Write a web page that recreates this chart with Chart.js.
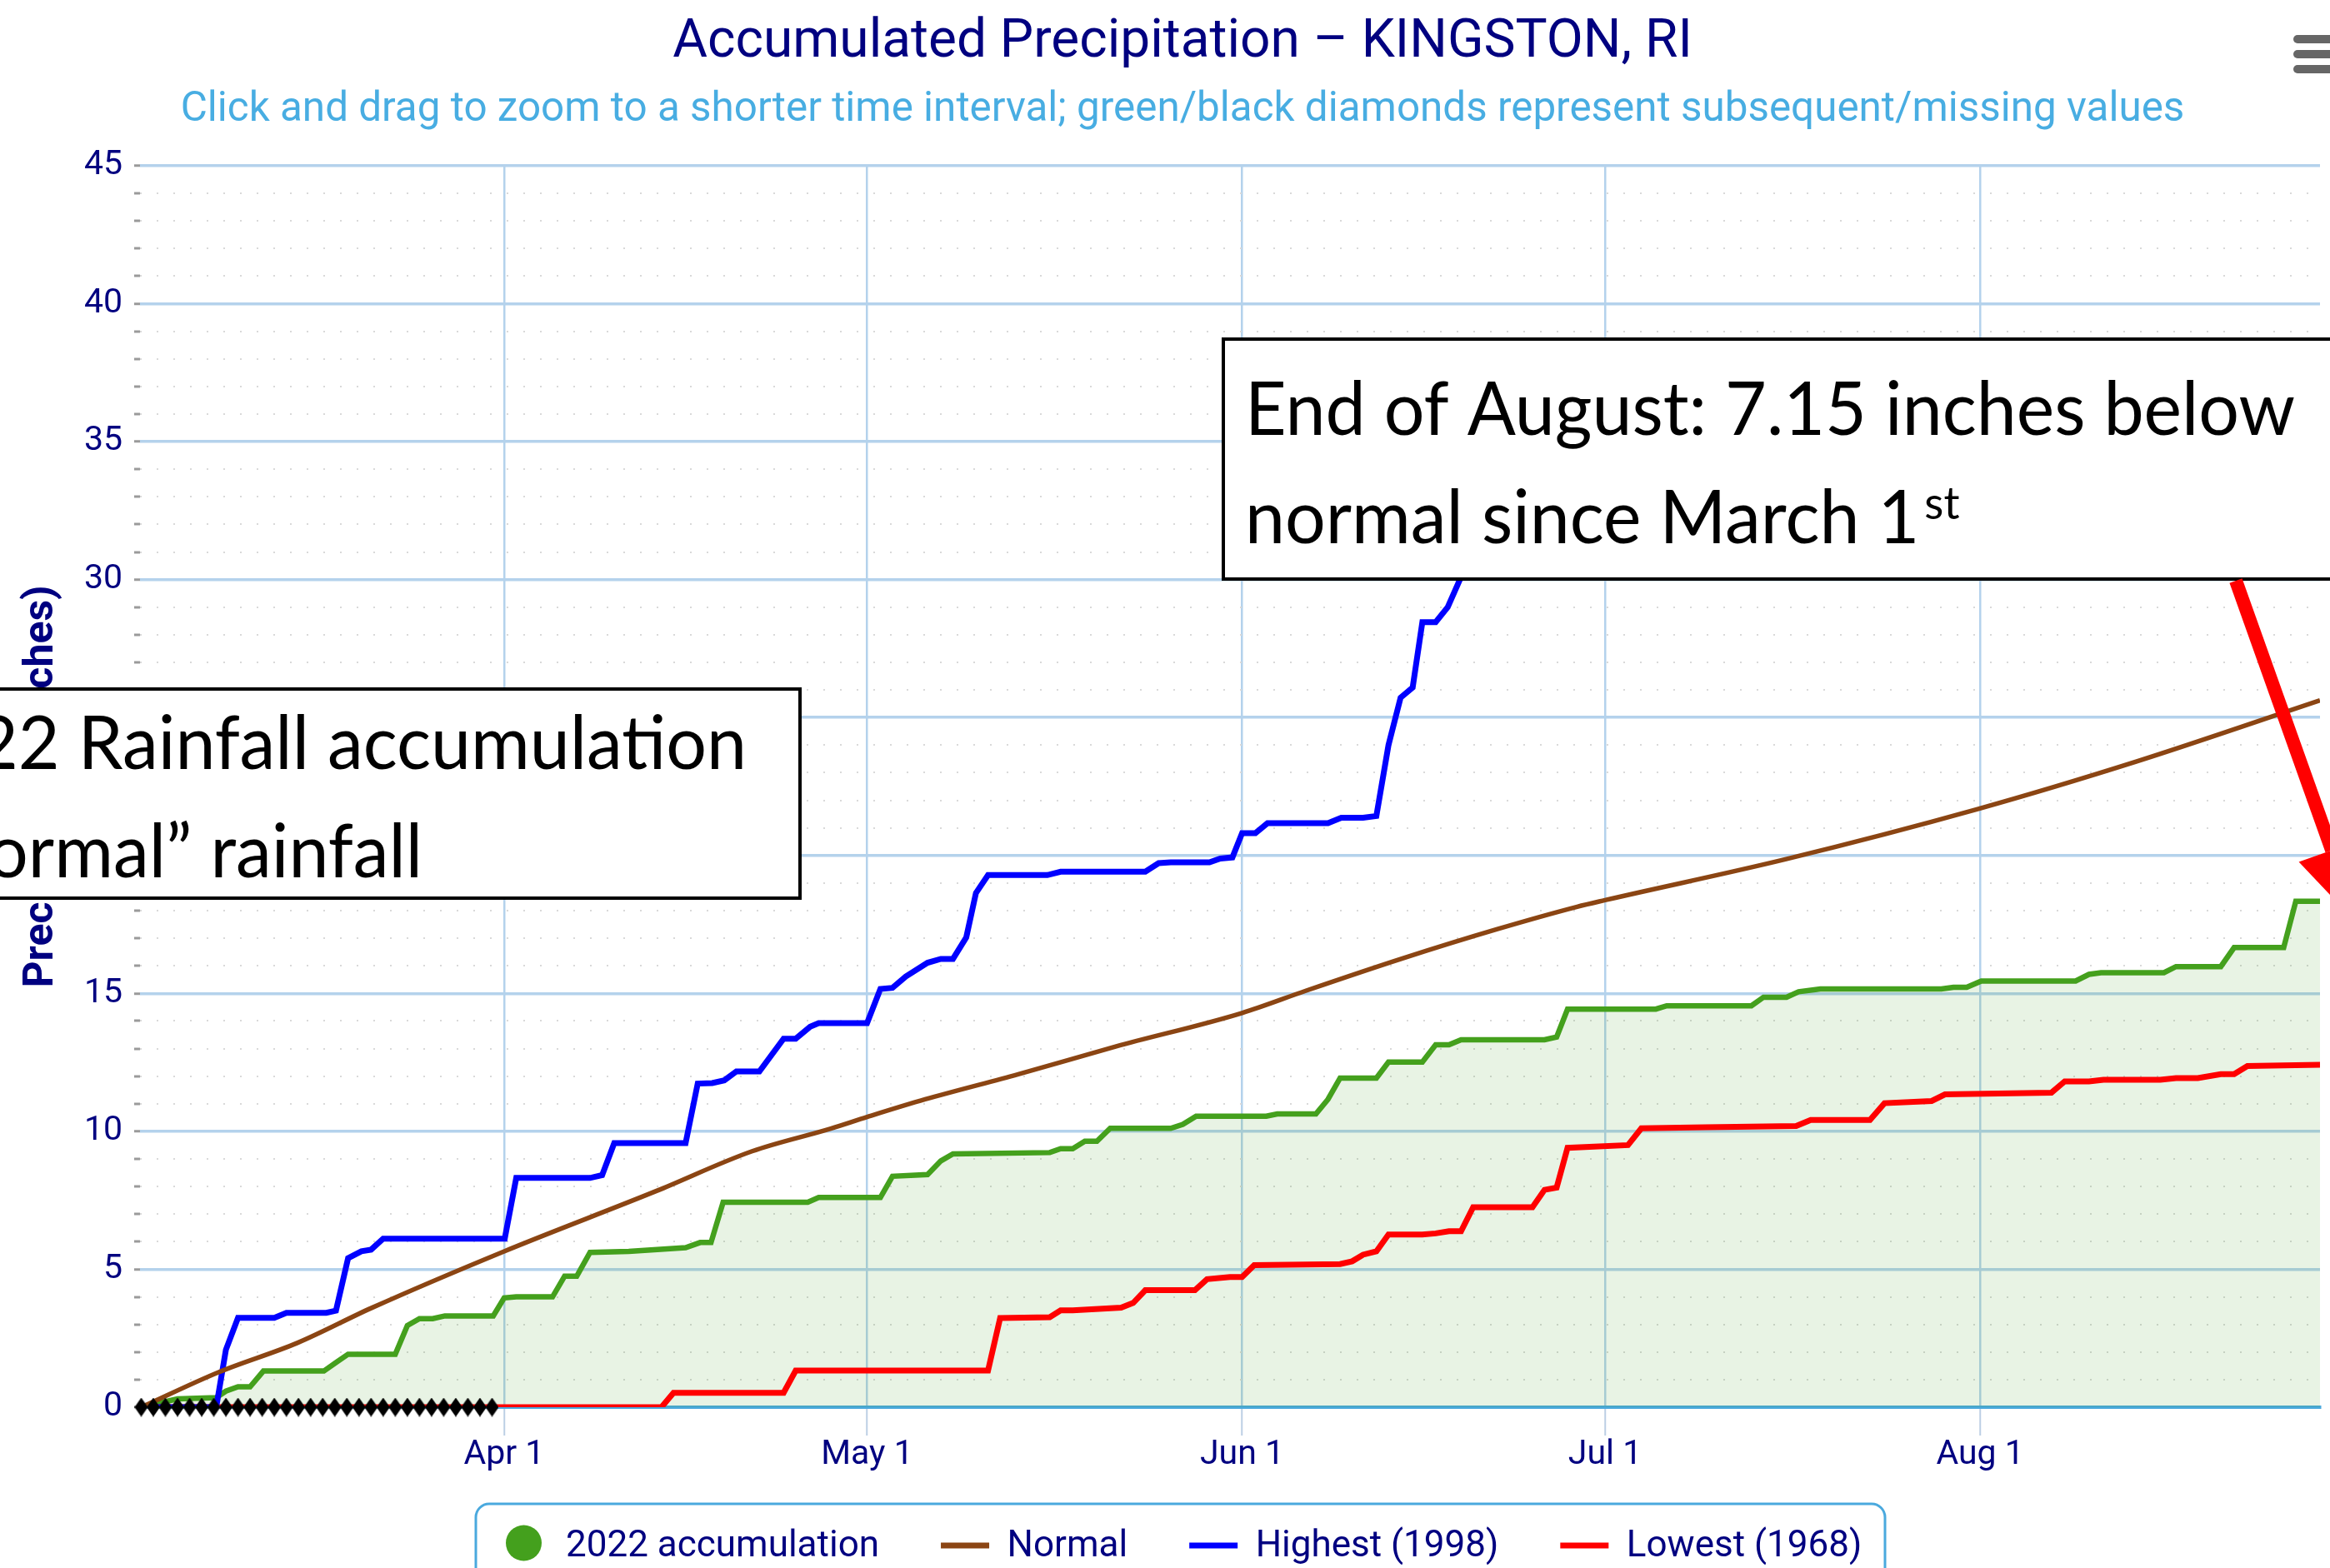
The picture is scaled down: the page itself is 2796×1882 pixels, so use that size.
<!DOCTYPE html>
<html>
<head>
<meta charset="utf-8">
<title>Accumulated Precipitation – KINGSTON, RI</title>
<script src="https://cdn.jsdelivr.net/npm/chart.js@4.4.1/dist/chart.umd.min.js"></script>
<style>
  html, body { margin: 0; padding: 0; background: #fff; }
  canvas { display: block; }
</style>
</head>
<body>
<canvas id="graphique-pluie" width="2796" height="1882"></canvas>
<script>
// x = days counted from Mar 1 (Apr 1 = 31), y = inches

const days2022 = [1, 4, 7.2, 8, 9, 10, 11.1, 16.1, 17.1, 18.1, 22, 23, 24, 25.1, 26.1, 30.1, 31, 32, 35, 36, 37, 38.1, 41.3, 46, 47.2, 48.1, 49.1, 56.1, 57, 62.1, 63.1, 66, 67.1, 68.1, 76.1, 77, 78, 79, 80, 81.1, 86.1, 87.1, 88.2, 94, 94.9, 98.1, 99.1, 100.1, 103.1, 104.1, 106.9, 108, 109.1, 110.1, 117, 118, 118.9, 126.2, 127.1, 134.1, 135.1, 137, 138, 139.8, 149.8, 150.8, 151.9, 153.1, 160.9, 162, 163, 168.2, 169.2, 172.9, 174, 178.1, 179.1, 181.2];
const rain2022 = [0, 0.3, 0.35, 0.58, 0.74, 0.74, 1.31, 1.31, 1.62, 1.92, 1.92, 2.96, 3.21, 3.21, 3.31, 3.31, 3.96, 4.0, 4.0, 4.75, 4.75, 5.61, 5.65, 5.78, 5.97, 5.97, 7.43, 7.43, 7.6, 7.6, 8.37, 8.43, 8.93, 9.18, 9.23, 9.37, 9.37, 9.64, 9.64, 10.11, 10.11, 10.25, 10.55, 10.55, 10.63, 10.63, 11.16, 11.93, 11.93, 12.51, 12.51, 13.14, 13.14, 13.32, 13.32, 13.42, 14.43, 14.43, 14.55, 14.55, 14.86, 14.86, 15.06, 15.16, 15.16, 15.22, 15.22, 15.45, 15.45, 15.69, 15.75, 15.75, 15.97, 15.97, 16.66, 16.66, 18.34, 18.34];

const daysNormal = [1, 7.4, 13.9, 20, 31, 43.6, 51.5, 58, 61, 65.8, 73.5, 81.6, 92, 97.3, 105.2, 113.1, 119.7, 122, 136.9, 152.8, 165.9, 181.1];
const rainNormal = [0, 1.27, 2.33, 3.59, 5.65, 7.84, 9.28, 10.1, 10.52, 11.16, 12.07, 13.08, 14.29, 15.1, 16.26, 17.33, 18.14, 18.38, 19.86, 21.68, 23.4, 25.62];

const daysHighest = [1, 7.2, 8, 9, 12, 13, 16.3, 17.1, 18.1, 19.2, 20, 21, 31.05, 32, 38.1, 39.1, 40.1, 46, 47, 48.2, 49.2, 50.2, 52.1, 54.1, 55.1, 56.3, 57, 61, 62.1, 63.1, 64.2, 66, 67.1, 68.1, 69.2, 70, 71, 75.9, 77, 84, 85.1, 86.1, 89.3, 90.2, 91.2, 92, 93.1, 94.1, 99.1, 100.2, 102, 103.1, 104.1, 105.1, 106.1, 106.9, 108, 109, 110.1, 111];
const rainHighest = [0, 0, 2.08, 3.24, 3.24, 3.42, 3.42, 3.5, 5.4, 5.65, 5.71, 6.11, 6.11, 8.31, 8.31, 8.41, 9.57, 9.57, 11.73, 11.75, 11.85, 12.17, 12.17, 13.36, 13.36, 13.79, 13.92, 13.92, 15.16, 15.2, 15.61, 16.11, 16.25, 16.25, 17.03, 18.64, 19.29, 19.29, 19.41, 19.41, 19.72, 19.75, 19.75, 19.89, 19.93, 20.81, 20.81, 21.17, 21.17, 21.37, 21.37, 21.43, 24.0, 25.72, 26.09, 28.46, 28.46, 29.0, 30.1, 31.2];

const daysLowest = [1, 44, 45, 54.1, 55.1, 71, 72, 76.1, 77, 78, 82, 83, 84, 88.1, 89.1, 91, 92, 93, 100.1, 101.1, 102, 103.1, 104.1, 106.9, 108, 109.1, 110.1, 111.1, 116, 117, 118, 118.9, 123.9, 125, 130.3, 137.8, 139, 143.9, 145.1, 149, 150.1, 158.9, 160, 162, 163.2, 167.9, 169.2, 171, 172.9, 174, 175.1, 181.2];
const rainLowest = [0, 0, 0.52, 0.52, 1.33, 1.33, 3.23, 3.26, 3.51, 3.51, 3.61, 3.78, 4.24, 4.24, 4.64, 4.72, 4.72, 5.15, 5.19, 5.29, 5.53, 5.65, 6.26, 6.26, 6.3, 6.38, 6.38, 7.25, 7.25, 7.88, 7.96, 9.4, 9.5, 10.11, 10.15, 10.19, 10.41, 10.41, 11.02, 11.1, 11.34, 11.4, 11.81, 11.81, 11.87, 11.87, 11.93, 11.93, 12.07, 12.07, 12.37, 12.41];

// black diamonds = missing values in March
const missingDays = [1, 2, 3, 4, 5, 6, 7, 8, 9, 10, 11, 12, 13, 14, 15, 16, 17, 18, 19, 20, 21, 22, 23, 24, 25, 26, 27, 28, 29, 30];
const missingValues = [0, 0, 0, 0, 0, 0, 0, 0, 0, 0, 0, 0, 0, 0, 0, 0, 0, 0, 0, 0, 0, 0, 0, 0, 0, 0, 0, 0, 0, 0];

const monthDays = [31, 61, 92, 122, 153];
const monthLabels = ["Apr 1", "May 1", "Jun 1", "Jul 1", "Aug 1"];

const rightBoxText = ["End of August: 7.15 inches below", "normal since March 1"];
const leftBoxText = ["2022 Rainfall accumulation", "vs. “normal” rainfall"];

const navy = "#000080";
const blueGrid = "#b4d2ec";

function points(xs, ys) {
  const pts = [];
  for (let i = 0; i < xs.length; i++) {
    pts.push({ x: xs[i], y: ys[i] });
  }
  return pts;
}

function isMajor(c) {
  return c.tick && c.tick.value % 5 === 0;
}

// tall black diamond used as point style
function diamond(w, h) {
  const c = document.createElement("canvas");
  c.width = w;
  c.height = h;
  const g = c.getContext("2d");
  g.fillStyle = "#000";
  g.beginPath();
  g.moveTo(w / 2, 0);
  g.lineTo(w, h / 2);
  g.lineTo(w / 2, h);
  g.lineTo(0, h / 2);
  g.closePath();
  g.fill();
  return c;
}

function drawText(ctx, text, x, y, align, sx) {
  ctx.save();
  ctx.translate(x, y);
  ctx.scale(sx, 1);
  ctx.textAlign = align;
  ctx.fillText(text, 0, 0);
  ctx.restore();
}

// boxes, red arrow, legend and menu icon drawn over the chart
const overlay = {
  id: "overlay",
  afterDraw(chart) {
    const ctx = chart.ctx;
    ctx.save();

    ctx.fillStyle = "#fff";
    ctx.strokeStyle = "#000";
    ctx.lineWidth = 4;
    ctx.fillRect(1468, 407, 1400, 288);
    ctx.strokeRect(1468, 407, 1400, 288);
    ctx.fillRect(-20, 827, 980, 251);
    ctx.strokeRect(-20, 827, 980, 251);

    ctx.fillStyle = "#000";
    ctx.textBaseline = "alphabetic";
    ctx.font = "89px Lato";
    const sx = 1260 / ctx.measureText(rightBoxText[0]).width;
    drawText(ctx, rightBoxText[0], 1494, 522, "left", sx);
    drawText(ctx, rightBoxText[1], 1494, 652, "left", sx);
    const w = ctx.measureText(rightBoxText[1]).width * sx;
    drawText(ctx, leftBoxText[0], 896, 923, "right", sx);
    drawText(ctx, leftBoxText[1], 507, 1053, "right", sx);
    ctx.font = "55px Lato";
    drawText(ctx, "st", 1494 + w + 6, 623, "left", sx);

    // red arrow
    const x0 = 2683, y0 = 697, x1 = 2830, y1 = 1110;
    const len = Math.hypot(x1 - x0, y1 - y0);
    const ux = (x1 - x0) / len, uy = (y1 - y0) / len;
    const bx = x1 - ux * 95, by = y1 - uy * 95;
    ctx.strokeStyle = "#ff0000";
    ctx.lineWidth = 16;
    ctx.beginPath();
    ctx.moveTo(x0, y0);
    ctx.lineTo(bx, by);
    ctx.stroke();
    ctx.fillStyle = "#ff0000";
    ctx.beginPath();
    ctx.moveTo(x1, y1);
    ctx.lineTo(bx - uy * 42, by + ux * 42);
    ctx.lineTo(bx + uy * 42, by - ux * 42);
    ctx.closePath();
    ctx.fill();

    // legend
    ctx.strokeStyle = "#4aa9de";
    ctx.lineWidth = 3;
    ctx.beginPath();
    ctx.roundRect(571, 1805, 1691, 150, 16);
    ctx.stroke();
    ctx.font = "44px Roboto";
    let x = 599.5;
    const items = chart.data.datasets.filter(d => d.legendSymbol);
    for (const d of items) {
      if (d.legendSymbol === "circle") {
        ctx.fillStyle = d.borderColor;
        ctx.beginPath();
        ctx.arc(x + 29, 1852, 21.5, 0, 2 * Math.PI);
        ctx.fill();
      } else {
        ctx.strokeStyle = d.borderColor;
        ctx.lineWidth = 7;
        ctx.beginPath();
        ctx.moveTo(x, 1855);
        ctx.lineTo(x + 58, 1855);
        ctx.stroke();
      }
      ctx.fillStyle = navy;
      ctx.textAlign = "left";
      ctx.fillText(d.label, x + 79.5, 1868);
      x += 79.5 + ctx.measureText(d.label).width + 74;
    }

    // menu icon
    ctx.strokeStyle = "#666";
    ctx.lineWidth = 10;
    ctx.lineCap = "round";
    for (const yy of [47, 65, 83]) {
      ctx.beginPath();
      ctx.moveTo(2757, yy);
      ctx.lineTo(2830, yy);
      ctx.stroke();
    }
    ctx.restore();
  }
};

Chart.defaults.font.family = "Roboto";

const data = {
  datasets: [
    {
      label: "2022 accumulation",
      data: points(days2022, rain2022),
      borderColor: "#44a01d",
      backgroundColor: "rgba(68, 160, 30, 0.12)",
      borderWidth: 6.5,
      pointRadius: 0,
      fill: "origin",
      order: 4,
      legendSymbol: "circle",
    },
    {
      label: "Normal",
      data: points(daysNormal, rainNormal),
      borderColor: "#8b4513",
      borderWidth: 5.5,
      pointRadius: 0,
      cubicInterpolationMode: "monotone",
      order: 1,
      legendSymbol: "line",
    },
    {
      label: "Highest (1998)",
      data: points(daysHighest, rainHighest),
      borderColor: "#0000ff",
      borderWidth: 7,
      pointRadius: 0,
      order: 2,
      legendSymbol: "line",
    },
    {
      label: "Lowest (1968)",
      data: points(daysLowest, rainLowest),
      borderColor: "#ff0000",
      borderWidth: 7,
      pointRadius: 0,
      order: 3,
      legendSymbol: "line",
    },
    {
      label: "Missing",
      data: points(missingDays, missingValues),
      showLine: false,
      pointStyle: diamond(16, 23),
      pointRadius: 11,
      backgroundColor: "#000",
      borderColor: "#000",
      clip: false,
      order: 0,
    },
  ],
};

const config = {
  type: "line",
  data: data,
  plugins: [overlay],
  options: {
    responsive: false,
    animation: false,
    events: [],
    devicePixelRatio: 1,
    layout: { padding: { left: 42, right: 0, top: 0, bottom: 0 } },
    plugins: {
      legend: { display: false },
      tooltip: { enabled: false },
      title: {
        display: true,
        text: "Accumulated Precipitation – KINGSTON, RI",
        color: navy,
        font: { size: 64, weight: "normal", lineHeight: 1.2 },
        padding: { top: 13.6, bottom: 10.4 },
      },
      subtitle: {
        display: true,
        text: "Click and drag to zoom to a shorter time interval; green/black diamonds represent subsequent/missing values",
        color: "#48ade2",
        font: { size: 49.4, lineHeight: 1.2 },
        padding: { top: 2.5, bottom: 36.4 },
      },
    },
    scales: {
      x: {
        type: "linear",
        min: 0.9,
        max: 181.1,
        afterBuildTicks: (scale) => {
          scale.ticks = monthDays.map(v => ({ value: v }));
        },
        afterFit: (scale) => {
          scale.height = 193;
        },
        ticks: {
          autoSkip: false,
          maxRotation: 0,
          padding: 3,
          color: navy,
          font: { size: 41, lineHeight: 1 },
          callback: (v) => monthLabels[monthDays.indexOf(v)],
        },
        grid: { color: blueGrid, lineWidth: 2.5, tickLength: 34, tickColor: "#bccfe4", tickWidth: 2 },
        border: { color: "#4aa9de", width: 4 },
      },
      y: {
        min: 0,
        max: 45,
        afterFit: (scale) => {
          scale.width = 126;
        },
        ticks: {
          stepSize: 1,
          autoSkip: false,
          padding: 14,
          color: navy,
          font: { size: 41 },
          callback: (v) => (v % 5 === 0 ? v : ""),
        },
        grid: {
          color: (c) => (isMajor(c) ? blueGrid : "#d9d9d9"),
          lineWidth: (c) => (isMajor(c) ? 3.5 : 2),
          tickLength: 7,
          tickColor: "#9a9a9a",
          tickWidth: 3,
        },
        border: {
          display: false,
          dash: (c) => (c.tick && c.tick.value % 5 !== 0 ? [2, 18] : []),
        },
        title: {
          display: true,
          text: "Precipitation (inches)",
          color: navy,
          font: { size: 50, weight: "bold", lineHeight: 0.32 },
          padding: 0,
        },
      },
    },
  },
};

new Chart(document.querySelector("#graphique-pluie"), config);
</script>
</body>
</html>
